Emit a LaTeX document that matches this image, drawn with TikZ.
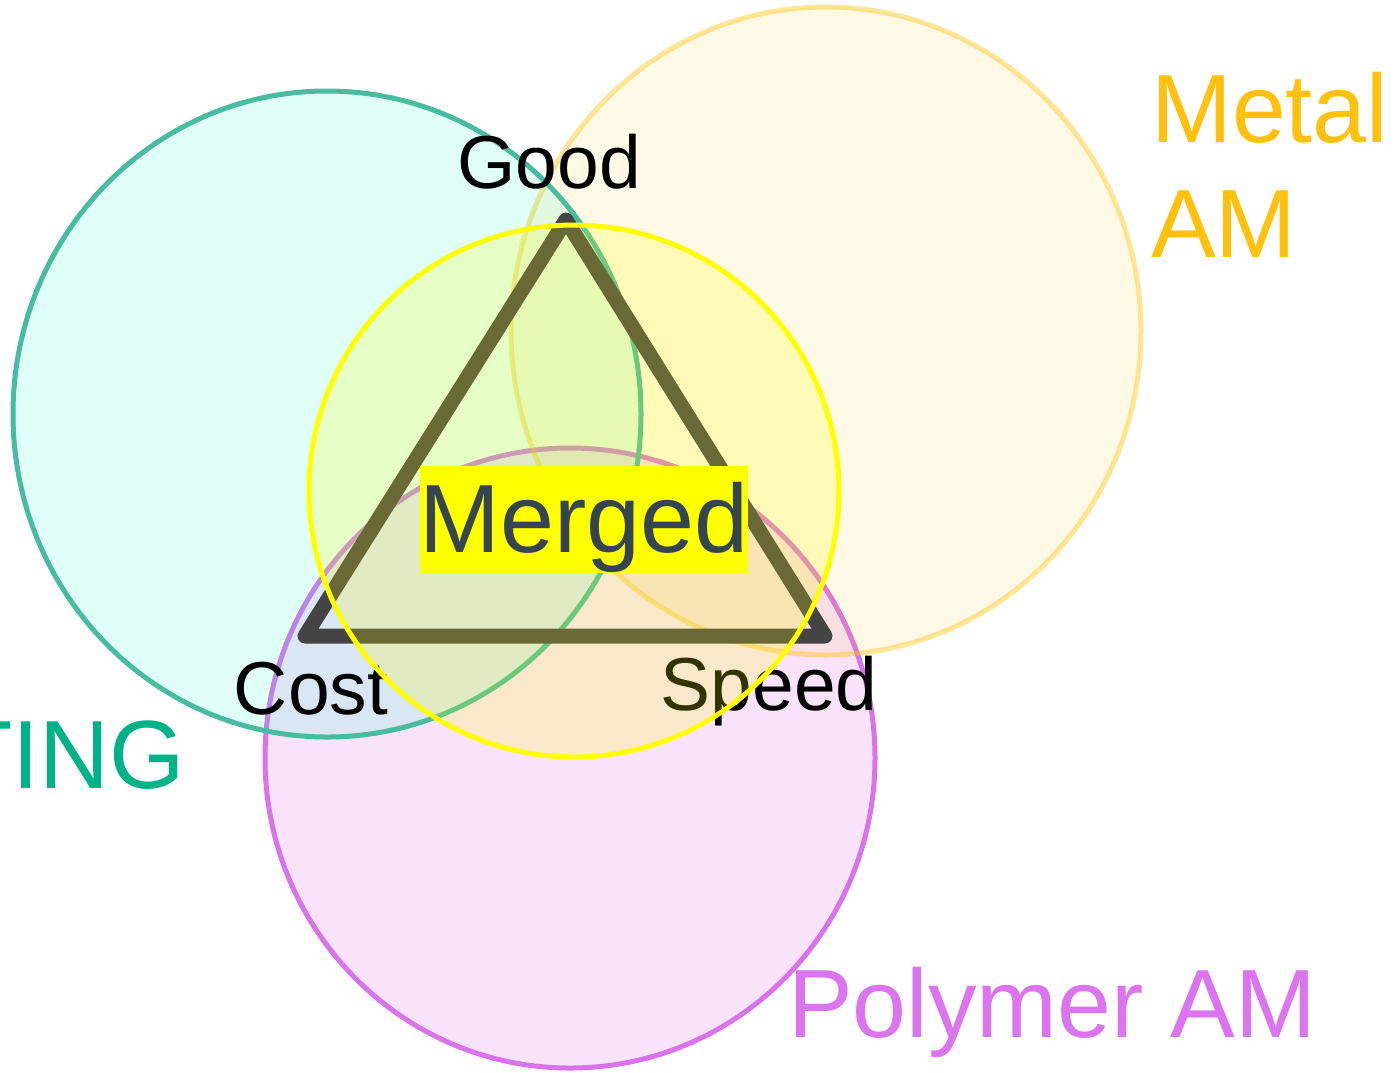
\documentclass[tikz,border=0pt]{standalone}
\usepackage{fontspec}
\setmainfont{Liberation Sans}
\definecolor{polyline}{HTML}{DA72EC}
\definecolor{castline}{HTML}{47BC9E}
\definecolor{castfill}{HTML}{00FFC0}
\definecolor{metalfill}{HTML}{FFC000}
\definecolor{metaltext}{HTML}{FFC10E}
\definecolor{casttext}{HTML}{00B386}
\definecolor{polytext}{HTML}{DB74EE}
\definecolor{mergetext}{HTML}{344550}
\definecolor{mergeyellow}{RGB}{255,255,0}
\definecolor{trianglegrey}{HTML}{444444}
\begin{document}
\begin{tikzpicture}[x=1pt,y=-1pt,
    zone/.style={line width=5pt},
    corner/.style={font=\fontsize{75}{90}\selectfont, inner sep=0pt, anchor=base},
    tag/.style={font=\fontsize{97}{115}\selectfont, inner sep=0pt}]
  \useasboundingbox (0,0) rectangle (1396,1072);
  % the three process circles
  \draw[zone, draw=polyline, fill=polyline, fill opacity=0.2]
    (570,758) ellipse [x radius=305, y radius=310];
  \draw[zone, draw=metalfill, draw opacity=0.4, fill=metalfill, fill opacity=0.1]
    (826,331) ellipse [x radius=315, y radius=324];
  \draw[zone, draw=castline, fill=castfill, fill opacity=0.12]
    (327,414) ellipse [x radius=314, y radius=323];
  % triangle
  \coordinate (top) at (566,220);
  \coordinate (left) at (305,636);
  \coordinate (right) at (825,636);
  \draw[trianglegrey, line width=15pt, line join=round, line cap=round]
    (top) -- (left) -- (right) -- cycle;
  \draw
    (549,188) node[corner] (good) {Good}
    (311,714) node[corner] (cost) {Cost}
    (769,710) node[corner] (speed) {Speed};
  \draw
    (185,788) node[tag, anchor=base east, text=casttext] (casting) {TING}
    (1151,72) node[tag, anchor=north west, align=left, text=metaltext] (metal) {Metal\\AM}
    (788,1037) node[tag, anchor=base west, text=polytext] (polymer) {Polymer AM};
  % merged circle on top
  \draw[zone, draw=mergeyellow, fill=mergeyellow, fill opacity=0.2]
    (574,491) ellipse [x radius=265, y radius=266];
  \node[tag, fill=mergeyellow, text=mergetext, minimum width=326pt,
    text height=86.7pt, text depth=20.3pt] (merged) at (584,519.5) {Merged};
\end{tikzpicture}
\end{document}
